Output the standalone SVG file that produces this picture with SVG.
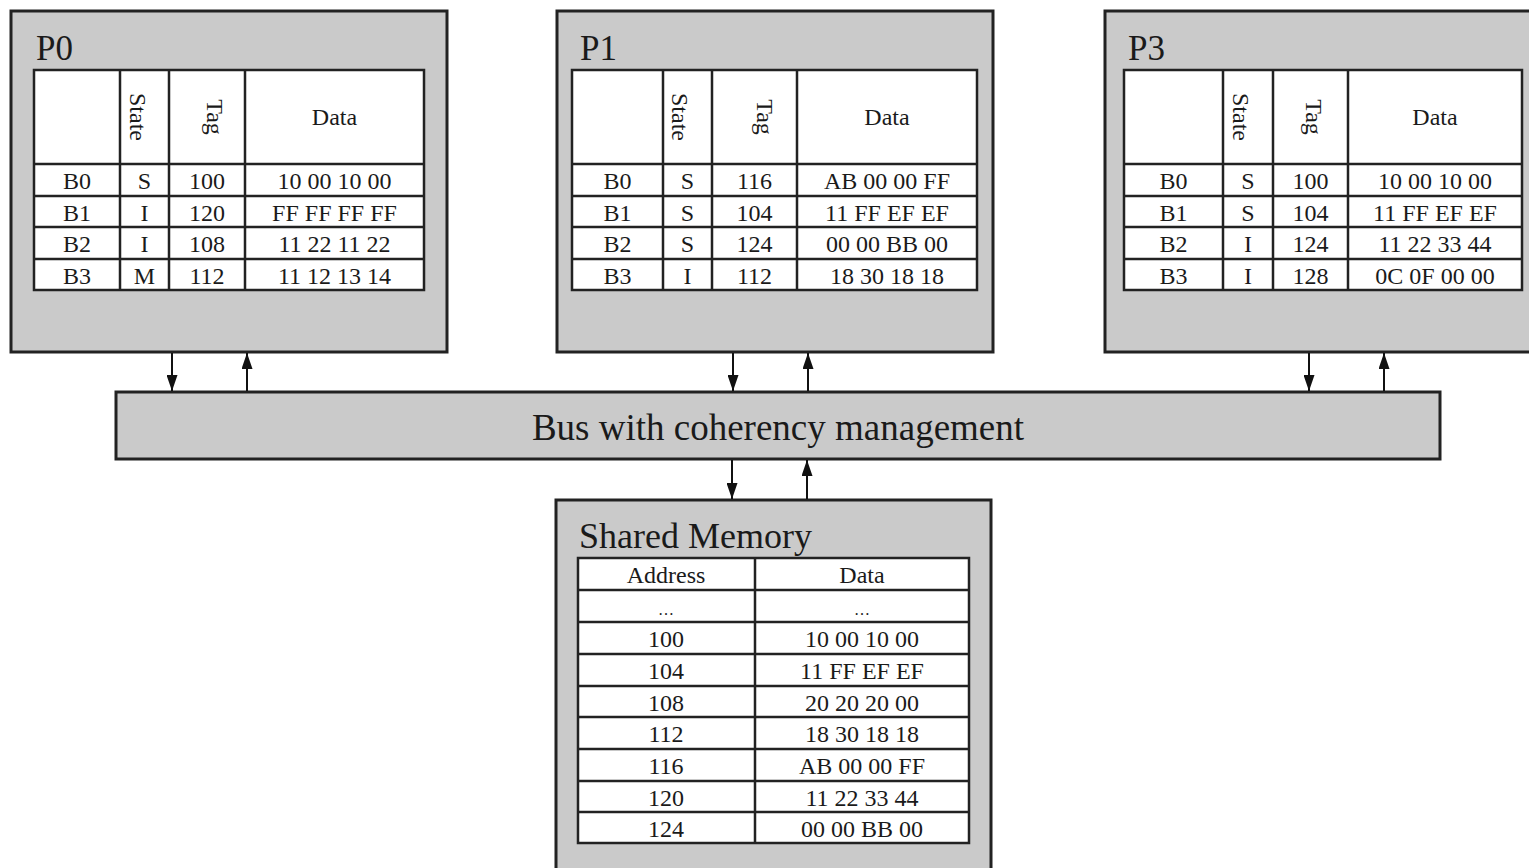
<svg xmlns="http://www.w3.org/2000/svg" width="1529" height="868" viewBox="0 0 1529 868">
<style>
.box{fill:#cacaca;stroke:#222;stroke-width:3}
.tbl{fill:#fff;stroke:#222;stroke-width:2.5}
.ln{stroke:#222;stroke-width:2.5}
text{font-family:"Liberation Serif","Times New Roman",serif;fill:#1a1a1a}
.c{font-size:24px;text-anchor:middle}
.t{font-size:35px}
.conn{stroke:#111;stroke-width:2;fill:none}
</style>
<defs>
<marker id="ah" markerWidth="16" markerHeight="11" refX="16" refY="5.5" viewBox="0 0 16 11" orient="auto" markerUnits="userSpaceOnUse">
<path d="M0,0 L16,5.5 L0,11 Z" fill="#111"/>
</marker>
</defs>
<rect width="1529" height="868" fill="#fff"/>

<g id="P0">
<rect class="box" x="11" y="11" width="436" height="341"/>
<text class="t" x="36" y="60">P0</text>
<rect class="tbl" x="34" y="70" width="390" height="220"/>
<path class="ln" d="M34,164H424M34,196H424M34,227H424M34,259H424M120,70V290M169,70V290M245,70V290"/>
<text class="c" transform="translate(130,117) rotate(90)">State</text>
<text class="c" transform="translate(207,117) rotate(90)">Tag</text>
<text class="c" x="334.5" y="125">Data</text>
<text class="c" x="77" y="189">B0</text><text class="c" x="144.5" y="189">S</text><text class="c" x="207" y="189">100</text><text class="c" x="334.5" y="189">10 00 10 00</text>
<text class="c" x="77" y="221">B1</text><text class="c" x="144.5" y="221">I</text><text class="c" x="207" y="221">120</text><text class="c" x="334.5" y="221">FF FF FF FF</text>
<text class="c" x="77" y="252">B2</text><text class="c" x="144.5" y="252">I</text><text class="c" x="207" y="252">108</text><text class="c" x="334.5" y="252">11 22 11 22</text>
<text class="c" x="77" y="284">B3</text><text class="c" x="144.5" y="284">M</text><text class="c" x="207" y="284">112</text><text class="c" x="334.5" y="284">11 12 13 14</text>
</g>

<g id="P1">
<rect class="box" x="557" y="11" width="436" height="341"/>
<text class="t" x="580" y="60">P1</text>
<rect class="tbl" x="572" y="70" width="405" height="220"/>
<path class="ln" d="M572,164H977M572,196H977M572,227H977M572,259H977M663,70V290M712,70V290M797,70V290"/>
<text class="c" transform="translate(672,117) rotate(90)">State</text>
<text class="c" transform="translate(757,117) rotate(90)">Tag</text>
<text class="c" x="887" y="125">Data</text>
<text class="c" x="617.5" y="189">B0</text><text class="c" x="687.5" y="189">S</text><text class="c" x="754.5" y="189">116</text><text class="c" x="887" y="189">AB 00 00 FF</text>
<text class="c" x="617.5" y="221">B1</text><text class="c" x="687.5" y="221">S</text><text class="c" x="754.5" y="221">104</text><text class="c" x="887" y="221">11 FF EF EF</text>
<text class="c" x="617.5" y="252">B2</text><text class="c" x="687.5" y="252">S</text><text class="c" x="754.5" y="252">124</text><text class="c" x="887" y="252">00 00 BB 00</text>
<text class="c" x="617.5" y="284">B3</text><text class="c" x="687.5" y="284">I</text><text class="c" x="754.5" y="284">112</text><text class="c" x="887" y="284">18 30 18 18</text>
</g>

<g id="P3">
<rect class="box" x="1105" y="11" width="436" height="341"/>
<text class="t" x="1128" y="60">P3</text>
<rect class="tbl" x="1124" y="70" width="398" height="220"/>
<path class="ln" d="M1124,164H1522M1124,196H1522M1124,227H1522M1124,259H1522M1223,70V290M1273,70V290M1348,70V290"/>
<text class="c" transform="translate(1233,117) rotate(90)">State</text>
<text class="c" transform="translate(1306,117) rotate(90)">Tag</text>
<text class="c" x="1435" y="125">Data</text>
<text class="c" x="1173.5" y="189">B0</text><text class="c" x="1248" y="189">S</text><text class="c" x="1310.5" y="189">100</text><text class="c" x="1435" y="189">10 00 10 00</text>
<text class="c" x="1173.5" y="221">B1</text><text class="c" x="1248" y="221">S</text><text class="c" x="1310.5" y="221">104</text><text class="c" x="1435" y="221">11 FF EF EF</text>
<text class="c" x="1173.5" y="252">B2</text><text class="c" x="1248" y="252">I</text><text class="c" x="1310.5" y="252">124</text><text class="c" x="1435" y="252">11 22 33 44</text>
<text class="c" x="1173.5" y="284">B3</text><text class="c" x="1248" y="284">I</text><text class="c" x="1310.5" y="284">128</text><text class="c" x="1435" y="284">0C 0F 00 00</text>
</g>

<g id="bus">
<rect class="box" x="116" y="392" width="1324" height="67"/>
<text x="778" y="440" style="font-size:37px;text-anchor:middle">Bus with coherency management</text>
</g>

<g id="memory">
<rect class="box" x="556" y="500" width="435" height="380"/>
<text x="579" y="548" style="font-size:36px">Shared Memory</text>
<rect class="tbl" x="578" y="558" width="391" height="285"/>
<path class="ln" d="M578,590H969M578,622H969M578,654H969M578,686H969M578,717H969M578,749H969M578,781H969M578,812H969M755,558V843"/>
<text class="c" x="666" y="583">Address</text><text class="c" x="862" y="583">Data</text>
<text class="c" x="666" y="615" style="font-size:16px">…</text><text class="c" x="862" y="615" style="font-size:16px">…</text>
<text class="c" x="666" y="647">100</text><text class="c" x="862" y="647">10 00 10 00</text>
<text class="c" x="666" y="679">104</text><text class="c" x="862" y="679">11 FF EF EF</text>
<text class="c" x="666" y="711">108</text><text class="c" x="862" y="711">20 20 20 00</text>
<text class="c" x="666" y="742">112</text><text class="c" x="862" y="742">18 30 18 18</text>
<text class="c" x="666" y="774">116</text><text class="c" x="862" y="774">AB 00 00 FF</text>
<text class="c" x="666" y="806">120</text><text class="c" x="862" y="806">11 22 33 44</text>
<text class="c" x="666" y="837">124</text><text class="c" x="862" y="837">00 00 BB 00</text>
</g>

<g id="connectors">
<line class="conn" x1="172" y1="353" x2="172" y2="391" marker-end="url(#ah)"/>
<line class="conn" x1="247" y1="391" x2="247" y2="353" marker-end="url(#ah)"/>
<line class="conn" x1="733" y1="353" x2="733" y2="391" marker-end="url(#ah)"/>
<line class="conn" x1="808" y1="391" x2="808" y2="353" marker-end="url(#ah)"/>
<line class="conn" x1="1309" y1="353" x2="1309" y2="391" marker-end="url(#ah)"/>
<line class="conn" x1="1384" y1="391" x2="1384" y2="353" marker-end="url(#ah)"/>
<line class="conn" x1="732" y1="460" x2="732" y2="499" marker-end="url(#ah)"/>
<line class="conn" x1="807" y1="499" x2="807" y2="460" marker-end="url(#ah)"/>
</g>
</svg>
